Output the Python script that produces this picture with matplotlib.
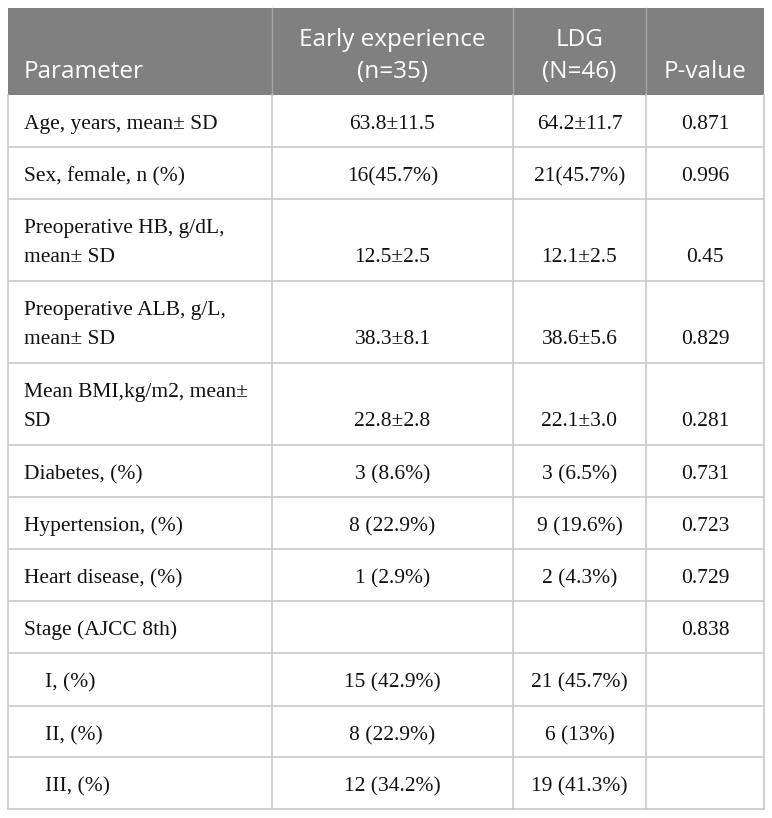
import matplotlib
matplotlib.use("Agg")
import matplotlib.pyplot as plt
from matplotlib.patches import Rectangle

# table content
header = ["Parameter", "Early experience\n(n=35)", "LDG\n(N=46)", "P-value"]
params = [
    "Age, years, mean\u00b1 SD",
    "Sex, female, n (%)",
    "Preoperative HB, g/dL,\nmean\u00b1 SD",
    "Preoperative ALB, g/L,\nmean\u00b1 SD",
    "Mean BMI,kg/m2, mean\u00b1\nSD",
    "Diabetes, (%)",
    "Hypertension, (%)",
    "Heart disease, (%)",
    "Stage (AJCC 8th)",
    "I, (%)",
    "II, (%)",
    "III, (%)",
]
early = ["63.8\u00b111.5", "16(45.7%)", "12.5\u00b12.5", "38.3\u00b18.1", "22.8\u00b12.8",
         "3 (8.6%)", "8 (22.9%)", "1 (2.9%)", "", "15 (42.9%)", "8 (22.9%)", "12 (34.2%)"]
ldg = ["64.2\u00b111.7", "21(45.7%)", "12.1\u00b12.5", "38.6\u00b15.6", "22.1\u00b13.0",
       "3 (6.5%)", "9 (19.6%)", "2 (4.3%)", "", "21 (45.7%)", "6 (13%)", "19 (41.3%)"]
pvals = ["0.871", "0.996", "0.45", "0.829", "0.281", "0.731", "0.723", "0.729", "0.838", "", "", ""]
indented = [False] * 9 + [True] * 3

# layout in pixels
W, H = 772, 818
col_edges = [8, 272, 513, 646, 764]
header_top, header_bottom = 8, 95
row_heights = [52, 52, 82, 82, 82, 52, 52, 52, 52, 53, 51, 52]

fig = plt.figure(figsize=(W / 100, H / 100), dpi=100)
ax = fig.add_axes([0, 0, 1, 1])
ax.set_xlim(0, W)
ax.set_ylim(H, 0)
ax.axis("off")

grid_color = "#c9c9c9"
head_color = "#808080"
text_color = "#111111"
serif = "Liberation Serif"
sans = "Open Sans"
body_size = 15.5
head_size = 17.5

# header band
ax.add_patch(Rectangle((col_edges[0], header_top), col_edges[-1] - col_edges[0],
                       header_bottom - header_top, facecolor=head_color, edgecolor="none"))
for x in col_edges[1:-1]:
    ax.plot([x, x], [header_top, header_bottom], color="#a5a5a5", lw=1.0)

head_base = 78
head_gap = 32
for i, label in enumerate(header):
    lines = label.split("\n")
    if i == 0:
        ax.text(col_edges[0] + 16, head_base, label, ha="left", va="baseline",
                color="white", fontsize=head_size, family=sans)
        continue
    cx = (col_edges[i] + col_edges[i + 1]) / 2
    for j, ln in enumerate(lines):
        ax.text(cx, head_base - (len(lines) - 1 - j) * head_gap, ln, ha="center",
                va="baseline", color="white", fontsize=head_size, family=sans)

# body rows
y = header_bottom
line_gap = 29
for k, h in enumerate(row_heights):
    top, bottom = y, y + h
    two_lines = "\n" in params[k]
    base = top + 63 if two_lines else top + 34
    x0 = col_edges[0] + (37 if indented[k] else 16)
    lines = params[k].split("\n")
    for j, ln in enumerate(lines):
        ax.text(x0, base - (len(lines) - 1 - j) * line_gap, ln, ha="left", va="baseline",
                fontsize=body_size, family=serif, color=text_color)
    for c, vals in enumerate([early, ldg, pvals], start=1):
        cx = (col_edges[c] + col_edges[c + 1]) / 2
        ax.text(cx, base, vals[k], ha="center", va="baseline", fontsize=body_size,
                family=serif, color=text_color)
    ax.plot([col_edges[0], col_edges[-1]], [bottom, bottom], color=grid_color, lw=1.2)
    y = bottom

# vertical grid lines for body
for x in col_edges:
    ax.plot([x, x], [header_bottom, y], color=grid_color, lw=1.2)

fig.savefig("out.png", dpi=100, facecolor="white")
